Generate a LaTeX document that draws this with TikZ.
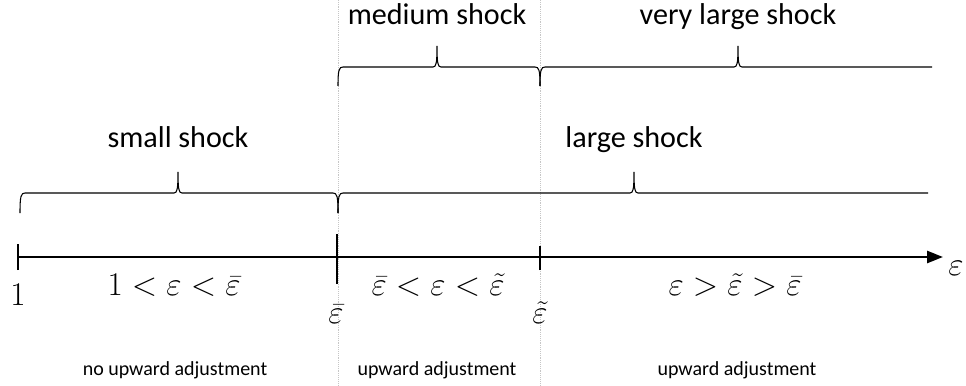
\documentclass[tikz,border=0pt]{standalone}
\usepackage[no-math]{fontspec}
\setmainfont{Carlito}
\usetikzlibrary{arrows.meta}

\tikzset{
  shock/.style={anchor=base, font=\fontsize{22.6}{26}\selectfont},
  regime/.style={anchor=base, font=\fontsize{15}{18}\selectfont},
  interval/.style={anchor=base, inner sep=1pt, font=\fontsize{24}{28}\selectfont},
  brace line/.style={line width=0.8pt},
  guide/.style={line width=0.4pt, densely dotted, color=gray!45}
}

\begin{document}
\begin{tikzpicture}
      [x=0.75pt, y=-0.75pt]
      \useasboundingbox (0, 0) rectangle (966, 385);

      % thresholds on the axis
      \coordinate (one) at (18, 257);
      \coordinate (ebar) at (337, 257);
      \coordinate (etil) at (540, 257);
      \coordinate (tip) at (943, 257);

      % light guides through the thresholds
      \draw[guide] (338, 0) -- (338, 385);
      \draw[guide] (540, 0) -- (540, 385);

      % axis and ticks
      \draw[line width=2pt, -{Triangle[length=12pt, width=9pt]}] (one) -- (tip);
      \draw[line width=1.6pt] ([yshift=-13*0.75pt]one) -- ([yshift=13*0.75pt]one);
      \draw[line width=1.6pt] ([yshift=-27*0.75pt]ebar) -- ([yshift=23*0.75pt]ebar);
      \draw[line width=1.6pt] ([yshift=-13*0.75pt]etil) -- ([yshift=11*0.75pt]etil);

      \node[interval] (lone) at (18, 305) {$1$};
      \node[interval] (lbar) at (336, 323) {$\bar\varepsilon$};
      \node[interval] (ltil) at (540, 323) {$\tilde\varepsilon$};
      \node[interval] (leps) at (956, 275) {$\varepsilon$};

      % regimes
      \node[interval] (r1) at (174, 295) {$1<\varepsilon<\bar\varepsilon$};
      \node[interval] (r2) at (438, 295) {$\bar\varepsilon<\varepsilon<\tilde\varepsilon$};
      \node[interval] (r3) at (735, 295) {$\varepsilon>\tilde\varepsilon>\bar\varepsilon$};

      \node[regime] (a1) at (175, 375) {no upward adjustment};
      \node[regime] (a2) at (437, 375) {upward adjustment};
      \node[regime] (a3) at (737, 375) {upward adjustment};

      % lower braces: small shock, large shock
      \draw[brace line] (20, 213) .. controls (20, 196) and (21, 193) .. (25, 193)
        -- (174, 193) .. controls (177, 193) and (178, 190) .. (178, 172)
        .. controls (178, 190) and (179, 193) .. (182, 193)
        -- (333, 193) .. controls (337, 193) and (338, 196) .. (338, 213);
      \draw[brace line] (338, 213) .. controls (338, 196) and (339, 193) .. (343, 193)
        -- (630, 193) .. controls (633, 193) and (634, 190) .. (634, 172)
        .. controls (634, 190) and (635, 193) .. (638, 193)
        -- (928, 193);
      \node[shock] (small) at (178, 147) {small shock};
      \node[shock] (large) at (634, 147) {large shock};

      % upper braces: medium shock, very large shock
      \draw[brace line] (338, 86) .. controls (338, 70) and (339, 67) .. (343, 67)
        -- (433, 67) .. controls (436, 67) and (437, 64) .. (437, 46)
        .. controls (437, 64) and (438, 67) .. (441, 67)
        -- (535, 67) .. controls (539, 67) and (540, 70) .. (540, 86);
      \draw[brace line] (540, 86) .. controls (540, 70) and (541, 67) .. (545, 67)
        -- (734, 67) .. controls (737, 67) and (738, 64) .. (738, 46)
        .. controls (738, 64) and (739, 67) .. (742, 67)
        -- (932, 67);
      \node[shock] (medium) at (437, 25) {medium shock};
      \node[shock] (verylarge) at (738, 25) {very large shock};
    \end{tikzpicture}
\end{document}
